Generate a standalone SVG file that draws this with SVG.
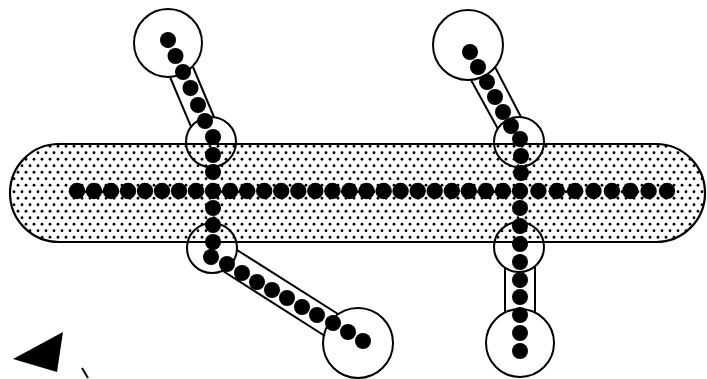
<svg xmlns="http://www.w3.org/2000/svg" width="707" height="379" viewBox="0 0 707 379">
<style>
.ring{fill:none;stroke:#000;stroke-width:2}
.tube{stroke:#000;stroke-width:2;fill:none}
.d{fill:#000}
</style>
<defs>
<pattern id="stip" x="0" y="0" width="8" height="13" patternUnits="userSpaceOnUse">
<rect width="8" height="13" fill="#fff"/>
<circle cx="2" cy="3.25" r="1.4" fill="#000"/>
<circle cx="6" cy="9.75" r="1.4" fill="#000"/>
</pattern>
</defs>
<rect width="707" height="379" fill="#fff"/>
<g id="band">
<rect x="10" y="144" width="695" height="98" rx="49" ry="49" fill="url(#stip)" stroke="#000" stroke-width="2.2"/>
</g>
<g id="connectors">
<line class="tube" x1="170" y1="77" x2="191" y2="126.7"/>
<line class="tube" x1="193" y1="67" x2="214" y2="117"/>
<line class="tube" x1="237" y1="250" x2="338" y2="314"/>
<line class="tube" x1="223" y1="271" x2="325" y2="336"/>
<line class="tube" x1="471" y1="80" x2="498" y2="129"/>
<line class="tube" x1="495" y1="67" x2="521" y2="117"/>
<line class="tube" x1="505" y1="267" x2="505" y2="312"/>
<line class="tube" x1="535" y1="267" x2="535" y2="312"/>
</g>
<g id="node-a"><circle class="ring" cx="168" cy="43" r="34"/></g>
<g id="node-j1"><circle class="ring" cx="211" cy="142" r="25"/></g>
<g id="node-j2"><circle class="ring" cx="212" cy="248" r="25"/></g>
<g id="node-b"><circle class="ring" cx="358" cy="343" r="35"/></g>
<g id="node-c"><circle class="ring" cx="468" cy="45" r="35"/></g>
<g id="node-j3"><circle class="ring" cx="519" cy="142" r="25"/></g>
<g id="node-j4"><circle class="ring" cx="519" cy="247" r="25"/></g>
<g id="node-d"><circle class="ring" cx="520" cy="343" r="34"/></g>
<g id="chain-main">
<circle class="d" cx="77" cy="191" r="8.2"/>
<circle class="d" cx="94" cy="191" r="8.2"/>
<circle class="d" cx="111" cy="191" r="8.2"/>
<circle class="d" cx="128" cy="191" r="8.2"/>
<circle class="d" cx="145" cy="191" r="8.2"/>
<circle class="d" cx="162" cy="191" r="8.2"/>
<circle class="d" cx="179" cy="191" r="8.2"/>
<circle class="d" cx="196" cy="191" r="8.2"/>
<circle class="d" cx="213" cy="191" r="8.2"/>
<circle class="d" cx="230.1" cy="191" r="8.2"/>
<circle class="d" cx="247.1" cy="191" r="8.2"/>
<circle class="d" cx="264.2" cy="191" r="8.2"/>
<circle class="d" cx="281.2" cy="191" r="8.2"/>
<circle class="d" cx="298.3" cy="191" r="8.2"/>
<circle class="d" cx="315.3" cy="191" r="8.2"/>
<circle class="d" cx="332.4" cy="191" r="8.2"/>
<circle class="d" cx="349.4" cy="191" r="8.2"/>
<circle class="d" cx="366.5" cy="191" r="8.2"/>
<circle class="d" cx="383.6" cy="191" r="8.2"/>
<circle class="d" cx="400.6" cy="191" r="8.2"/>
<circle class="d" cx="417.7" cy="191" r="8.2"/>
<circle class="d" cx="434.7" cy="191" r="8.2"/>
<circle class="d" cx="451.8" cy="191" r="8.2"/>
<circle class="d" cx="468.8" cy="191" r="8.2"/>
<circle class="d" cx="485.9" cy="191" r="8.2"/>
<circle class="d" cx="502.9" cy="191" r="8.2"/>
<circle class="d" cx="520" cy="191" r="8.2"/>
<circle class="d" cx="538.4" cy="191" r="8.2"/>
<circle class="d" cx="556.8" cy="191" r="8.2"/>
<circle class="d" cx="575.1" cy="191" r="8.2"/>
<circle class="d" cx="593.5" cy="191" r="8.2"/>
<circle class="d" cx="611.9" cy="191" r="8.2"/>
<circle class="d" cx="630.3" cy="191" r="8.2"/>
<circle class="d" cx="648.6" cy="191" r="8.2"/>
<circle class="d" cx="667" cy="191" r="8.2"/>
</g>
<g id="chain-left">
<circle class="d" cx="168" cy="40" r="8"/>
<circle class="d" cx="175.5" cy="56" r="8"/>
<circle class="d" cx="183" cy="72" r="8"/>
<circle class="d" cx="190.5" cy="88" r="8"/>
<circle class="d" cx="198" cy="105" r="8"/>
<circle class="d" cx="205" cy="121" r="8"/>
<circle class="d" cx="213" cy="137" r="8"/>
<circle class="d" cx="213" cy="155" r="8"/>
<circle class="d" cx="213" cy="172" r="8"/>
<circle class="d" cx="213" cy="208" r="8"/>
<circle class="d" cx="213" cy="225" r="8"/>
<circle class="d" cx="213" cy="242" r="8"/>
<circle class="d" cx="211" cy="257" r="8"/>
<circle class="d" cx="227" cy="264" r="8"/>
<circle class="d" cx="242" cy="273" r="8"/>
<circle class="d" cx="257" cy="282" r="8"/>
<circle class="d" cx="272" cy="290" r="8"/>
<circle class="d" cx="287" cy="298" r="8"/>
<circle class="d" cx="302" cy="307" r="8"/>
<circle class="d" cx="317" cy="315" r="8"/>
<circle class="d" cx="333" cy="323" r="8"/>
<circle class="d" cx="348" cy="332" r="8"/>
<circle class="d" cx="363" cy="341" r="8"/>
</g>
<g id="chain-right">
<circle class="d" cx="470" cy="52" r="8"/>
<circle class="d" cx="478" cy="67" r="8"/>
<circle class="d" cx="487" cy="82" r="8"/>
<circle class="d" cx="495" cy="97" r="8"/>
<circle class="d" cx="503" cy="112" r="8"/>
<circle class="d" cx="511" cy="126" r="8"/>
<circle class="d" cx="520" cy="139" r="8"/>
<circle class="d" cx="521" cy="156" r="8"/>
<circle class="d" cx="521" cy="173" r="8"/>
<circle class="d" cx="520" cy="208" r="8"/>
<circle class="d" cx="520" cy="226" r="8"/>
<circle class="d" cx="520" cy="244" r="8"/>
<circle class="d" cx="520" cy="262" r="8"/>
<circle class="d" cx="520" cy="280" r="8"/>
<circle class="d" cx="520" cy="297" r="8"/>
<circle class="d" cx="520" cy="315" r="8"/>
<circle class="d" cx="520" cy="333" r="8"/>
<circle class="d" cx="520" cy="351" r="8"/>
</g>
<g id="pointer">
<polygon points="13,359 63,332 57,372" fill="#000"/>
<line x1="82" y1="368" x2="88" y2="378" stroke="#000" stroke-width="2"/>
</g>
</svg>
